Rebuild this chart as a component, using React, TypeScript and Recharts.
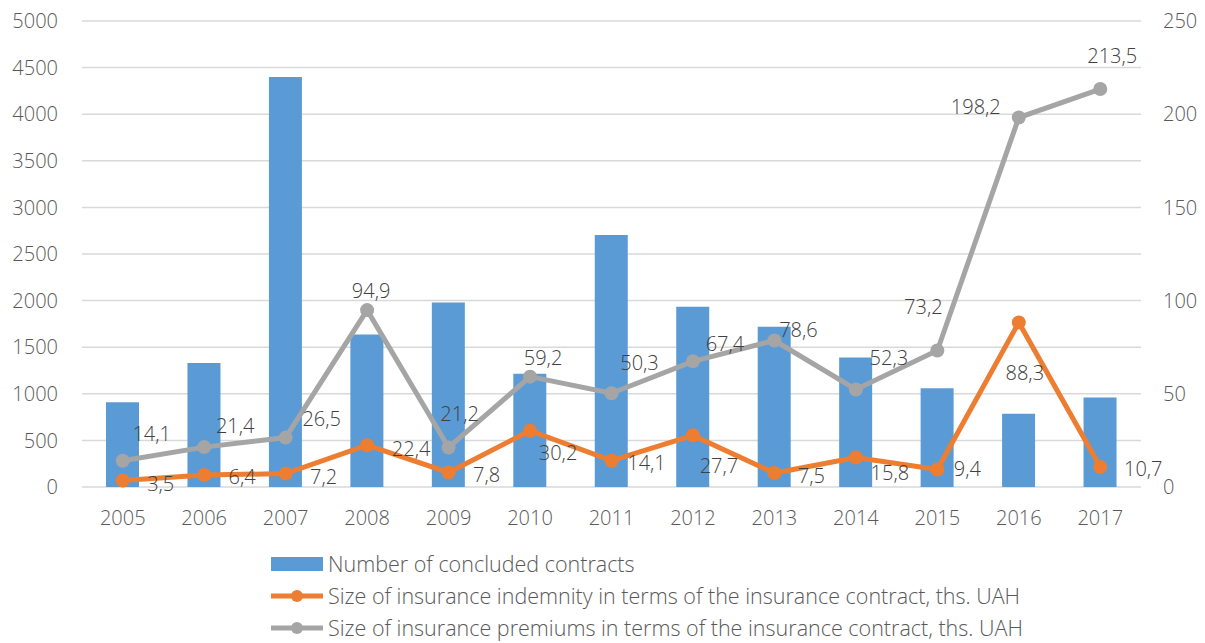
import React from "react";
import {
  ComposedChart,
  Bar,
  Line,
  XAxis,
  YAxis,
  CartesianGrid,
  Legend,
  LabelList,
} from "recharts";

const years = ["2005", "2006", "2007", "2008", "2009", "2010", "2011", "2012", "2013", "2014", "2015", "2016", "2017"];
const contracts = [910, 1330, 4400, 1635, 1980, 1215, 2705, 1935, 1720, 1390, 1060, 785, 960];
const indemnity = [3.5, 6.4, 7.2, 22.4, 7.8, 30.2, 14.1, 27.7, 7.5, 15.8, 9.4, 88.3, 10.7];
const premiums = [14.1, 21.4, 26.5, 94.9, 21.2, 59.2, 50.3, 67.4, 78.6, 52.3, 73.2, 198.2, 213.5];
const leftTicks = [0, 500, 1000, 1500, 2000, 2500, 3000, 3500, 4000, 4500, 5000];
const rightTicks = [0, 50, 100, 150, 200, 250];

const seriesNames = [
  "Number of concluded contracts",
  "Size of insurance indemnity in terms of the insurance contract, ths. UAH",
  "Size of insurance premiums in terms of the insurance contract, ths. UAH",
];

// label offsets (dx, dy) relative to the point, for label placement
const premiumLabelOffsets: [number, number][] = [
  [29, -27], [31, -22], [36, -19], [4, -20], [11, -34], [13, -19], [28, -31],
  [32, -18], [24, -11], [33, -32], [-14, -44], [-43, -11], [12, -34],
];
const indemnityLabelOffsets: [number, number][] = [
  [38, 3], [38, 1], [38, 3], [44, 3], [38, 2], [28, 22], [35, 2],
  [26, 30], [37, 2], [34, 15], [30, -1], [6, 50], [43, 1],
];

const data = years.map((y, i) => ({
  year: y,
  contracts: contracts[i],
  indemnity: indemnity[i],
  premiums: premiums[i],
}));

const BLUE = "#5B9BD5";
const ORANGE = "#ED7D31";
const GRAY = "#A5A5A5";
const FONT = "'Open Sans', sans-serif";

const fmt = (v: number) => v.toFixed(1).replace(".", ",");

const makeLabel = (offsets: [number, number][]) => (props: any) => {
  const { x, y, value, index } = props;
  const [dx, dy] = offsets[index] || [0, 0];
  return (
    <text
      x={Number(x) + dx}
      y={Number(y) + dy}
      textAnchor="middle"
      dominantBaseline="central"
      fill="#404040"
      fontSize={20}
      fontFamily={FONT}
      fontWeight={300}
    >
      {fmt(Number(value))}
    </text>
  );
};

const LegendContent = () => {
  const rowStyle: React.CSSProperties = {
    display: "flex",
    alignItems: "center",
    height: 32,
  };
  const textStyle: React.CSSProperties = {
    marginLeft: 5,
    fontSize: 21.5,
    lineHeight: "22px",
    fontFamily: FONT,
    fontWeight: 300,
    color: "#595959",
    whiteSpace: "nowrap",
  };
  const lineIcon = (c: string) => (
    <svg width={52} height={16}>
      <line x1={0} y1={8} x2={52} y2={8} stroke={c} strokeWidth={5} />
      <circle cx={26} cy={8} r={6} fill={c} />
    </svg>
  );
  return (
    <div style={{ position: "relative", left: 271, width: 900 }}>
      <div style={rowStyle}>
        <svg width={52} height={16}>
          <rect x={0} y={1} width={52} height={14} fill={BLUE} />
        </svg>
        <span style={textStyle}>{seriesNames[0]}</span>
      </div>
      <div style={rowStyle}>
        {lineIcon(ORANGE)}
        <span style={textStyle}>{seriesNames[1]}</span>
      </div>
      <div style={rowStyle}>
        {lineIcon(GRAY)}
        <span style={textStyle}>{seriesNames[2]}</span>
      </div>
    </div>
  );
};

const tickStyle = { fill: "#595959", fontSize: 20, fontFamily: FONT, fontWeight: 300 };

export default function App() {
  return (
    <div style={{ position: "absolute", left: 0, top: 0, width: 1205, height: 643, background: "#fff" }}>
      <ComposedChart
        width={1205}
        height={643}
        data={data}
        margin={{ top: 21, right: 0, bottom: 16, left: 0 }}
      >
        <CartesianGrid vertical={false} stroke="#D9D9D9" strokeWidth={1.5} yAxisId="left" />
        <XAxis
          dataKey="year"
          axisLine={false}
          tickLine={false}
          tickSize={0}
          tickMargin={24}
          height={40}
          tick={tickStyle}
          interval={0}
        />
        <YAxis
          yAxisId="left"
          domain={[0, 5000]}
          ticks={leftTicks}
          axisLine={false}
          tickLine={false}
          tickSize={0}
          tickMargin={24}
          width={82}
          tick={tickStyle}
          interval={0}
        />
        <YAxis
          yAxisId="right"
          orientation="right"
          domain={[0, 250]}
          ticks={rightTicks}
          axisLine={false}
          tickLine={false}
          tickSize={0}
          tickMargin={22}
          width={64}
          tick={{ ...tickStyle, textAnchor: "start" }}
          interval={0}
        />
        <Legend
          verticalAlign="bottom"
          content={<LegendContent />}
          wrapperStyle={{ position: "absolute", left: 0, top: 548, width: 1205, height: 100 }}
        />
        <Bar
          yAxisId="left"
          dataKey="contracts"
          name={seriesNames[0]}
          fill={BLUE}
          barSize={33}
          isAnimationActive={false}
        />
        <Line
          yAxisId="right"
          dataKey="indemnity"
          name={seriesNames[1]}
          stroke={ORANGE}
          strokeWidth={5}
          dot={{ r: 7, fill: ORANGE, stroke: ORANGE, strokeWidth: 0 }}
          activeDot={false}
          isAnimationActive={false}
        >
          <LabelList dataKey="indemnity" content={makeLabel(indemnityLabelOffsets)} />
        </Line>
        <Line
          yAxisId="right"
          dataKey="premiums"
          name={seriesNames[2]}
          stroke={GRAY}
          strokeWidth={5}
          dot={{ r: 7, fill: GRAY, stroke: GRAY, strokeWidth: 0 }}
          activeDot={false}
          isAnimationActive={false}
        >
          <LabelList dataKey="premiums" content={makeLabel(premiumLabelOffsets)} />
        </Line>
      </ComposedChart>
    </div>
  );
}
